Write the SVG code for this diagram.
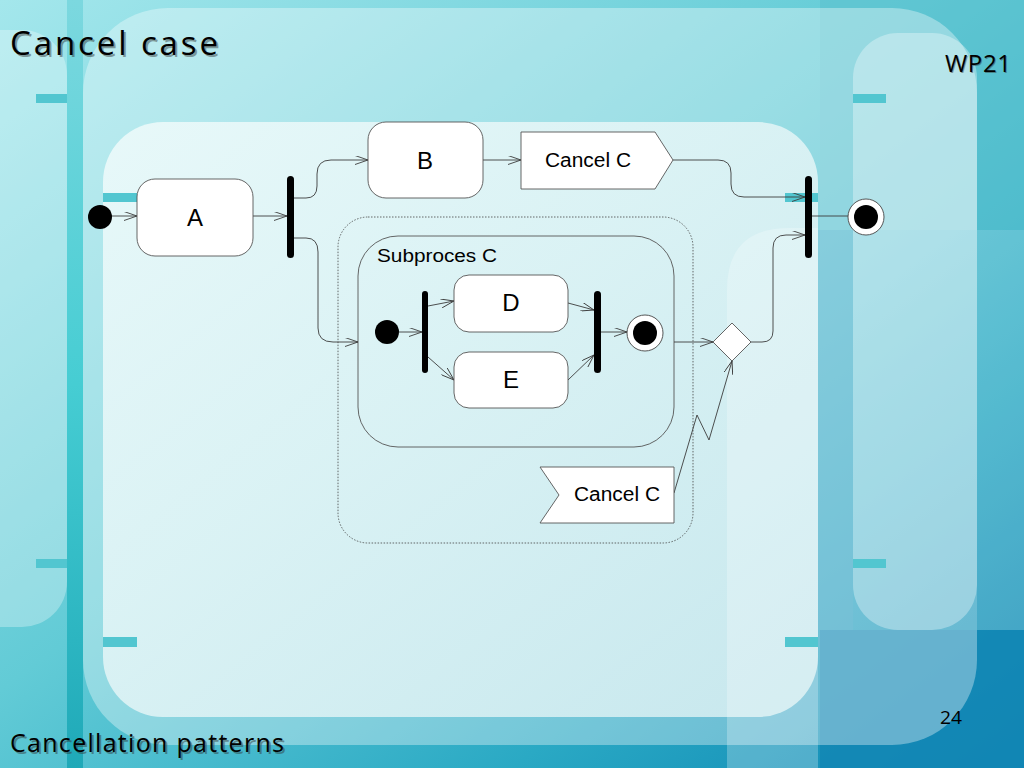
<svg xmlns="http://www.w3.org/2000/svg" width="1024" height="768" viewBox="0 0 1024 768">
<defs>
  <linearGradient id="bg" x1="0" y1="0" x2="1" y2="1">
    <stop offset="0" stop-color="#a4e7ec"/>
    <stop offset="0.45" stop-color="#62cbd6"/>
    <stop offset="0.75" stop-color="#2aa9c4"/>
    <stop offset="1" stop-color="#0b84b3"/>
  </linearGradient>
  <linearGradient id="leftStrip" x1="0" y1="0" x2="0" y2="1">
    <stop offset="0" stop-color="#7cd8df"/>
    <stop offset="0.5" stop-color="#46cdd3"/>
    <stop offset="1" stop-color="#1fa9b8"/>
  </linearGradient>
  <linearGradient id="inner" x1="0" y1="0" x2="1" y2="1">
    <stop offset="0" stop-color="#f0fbfb"/>
    <stop offset="1" stop-color="#d8eff2"/>
  </linearGradient>
  <marker id="arr" viewBox="0 0 13 9" refX="13" refY="4.5" markerWidth="13" markerHeight="9" orient="auto" markerUnits="userSpaceOnUse">
    <path d="M0,0 L13,4.5 L0,9" fill="none" stroke="#3c3c3c" stroke-width="0.9"/>
  </marker>
  <style>
    .edge{fill:none;stroke:#3c3c3c;stroke-width:0.9}
    .box{fill:#ffffff;stroke:#555;stroke-width:0.9}
    .bar{fill:#000}
    .lbl{font-family:"Liberation Sans",Arial,sans-serif;fill:#000}
    .ttl{font-family:"Open Sans","DejaVu Sans",sans-serif;fill:#000}
    .shd{font-family:"Open Sans","DejaVu Sans",sans-serif;fill:#333;opacity:0.45}
    .stub{fill:#52c6d0}
  </style>
</defs>

<!-- background -->
<g id="background">
  <rect x="0" y="0" width="1024" height="768" fill="url(#bg)"/>
  <rect x="67" y="0" width="16" height="768" fill="url(#leftStrip)"/>
  <rect x="820" y="0" width="204" height="230" fill="#5cc2cf" opacity="0.6"/>
  <rect x="818" y="230" width="35" height="400" fill="#3a9fc2" opacity="0.4"/>
  <rect x="820" y="630" width="204" height="138" fill="#1386b4" opacity="0.8"/>
  <rect x="-80" y="30" width="147" height="597" rx="45" fill="#ffffff" opacity="0.3"/>
  <rect x="853" y="33" width="124" height="597" rx="45" fill="#ffffff" opacity="0.33"/>
  <rect x="977" y="230" width="47" height="400" fill="#ffffff" opacity="0.2"/>
  <rect x="83" y="8" width="894" height="737" rx="85" fill="#ffffff" opacity="0.35"/>
  <rect x="103" y="122" width="715" height="595" rx="60" fill="url(#inner)" opacity="0.85"/>
  <path d="M727,768 V290 Q727,228 789,228 H818 V768 Z" fill="#ffffff" opacity="0.25"/>
  <rect class="stub" x="36" y="94" width="31" height="9"/>
  <rect class="stub" x="36" y="559" width="31" height="9"/>
  <rect class="stub" x="853" y="94" width="33" height="9"/>
  <rect class="stub" x="853" y="559" width="33" height="9"/>
  <rect class="stub" x="103" y="193" width="34" height="9"/>
  <rect class="stub" x="785" y="193" width="33" height="9"/>
  <rect class="stub" x="103" y="637" width="34" height="10"/>
  <rect class="stub" x="785" y="637" width="33" height="10"/>
</g>

<!-- titles -->
<g id="titles">
  <text class="shd" x="12" y="57" font-size="33" textLength="208" lengthAdjust="spacing">Cancel case</text>
  <text class="ttl" x="10" y="55" font-size="33" textLength="208" lengthAdjust="spacing">Cancel case</text>
  <text class="shd" x="946" y="73" font-size="24" textLength="66" lengthAdjust="spacing">WP21</text>
  <text class="ttl" x="945" y="72" font-size="24" textLength="66" lengthAdjust="spacing">WP21</text>
  <text class="shd" x="12" y="754" font-size="25" textLength="274" lengthAdjust="spacing">Cancellation patterns</text>
  <text class="ttl" x="10" y="752" font-size="25" textLength="274" lengthAdjust="spacing">Cancellation patterns</text>
  <text class="ttl" x="940" y="724" font-size="19" textLength="22" lengthAdjust="spacingAndGlyphs">24</text>
</g>

<!-- regions -->
<g id="interruptible-region">
  <rect x="338" y="217" width="355" height="326" rx="30" fill="none" stroke="#444" stroke-width="0.8" stroke-dasharray="1.5,1.5"/>
</g>
<g id="subproces-c">
  <rect x="358" y="236" width="316" height="211" rx="40" fill="none" stroke="#555" stroke-width="0.9"/>
  <text class="lbl" x="377" y="262" font-size="18" textLength="120" lengthAdjust="spacingAndGlyphs">Subproces C</text>
</g>

<!-- connectors -->
<g id="connectors">
  <path class="edge" d="M112,216 H137" marker-end="url(#arr)"/>
  <path class="edge" d="M253,216 H287" marker-end="url(#arr)"/>
  <path class="edge" d="M294,198 H306 Q317,198 317,186 V174 Q317,160 331,160 H368" marker-end="url(#arr)"/>
  <path class="edge" d="M294,238 H306 Q318,238 318,252 V328 Q318,342 333,342 H358" marker-end="url(#arr)"/>
  <path class="edge" d="M483,160 H521" marker-end="url(#arr)"/>
  <path class="edge" d="M673,160 H718 Q731,160 731,173 V184 Q731,197 744,197 H805" marker-end="url(#arr)"/>
  <path class="edge" d="M812,216 H848"/>
  <path class="edge" d="M751,342 H762 Q773,342 773,331 V248 Q773,235 786,235 H805" marker-end="url(#arr)"/>
  <path class="edge" d="M674,342 H713" marker-end="url(#arr)"/>
  <path class="edge" d="M399,332 H422" marker-end="url(#arr)"/>
  <path class="edge" d="M428,306 L454,301" marker-end="url(#arr)"/>
  <path class="edge" d="M428,357 L454,380" marker-end="url(#arr)"/>
  <path class="edge" d="M568,303 L594,310" marker-end="url(#arr)"/>
  <path class="edge" d="M568,380 L594,355" marker-end="url(#arr)"/>
  <path class="edge" d="M601,332 H627" marker-end="url(#arr)"/>
  <path class="edge" d="M674,493 L697,415 L709,440 L732,361" marker-end="url(#arr)"/>
</g>

<!-- nodes -->
<g id="start">
  <circle cx="100" cy="217" r="12" fill="#000"/>
</g>
<g id="node-a">
  <rect class="box" x="137" y="179" width="116" height="77" rx="18"/>
  <text class="lbl" x="195" y="226" font-size="24" text-anchor="middle">A</text>
</g>
<g id="fork-1">
  <rect class="bar" x="287" y="176" width="7" height="82" rx="3.5"/>
</g>
<g id="node-b">
  <rect class="box" x="368" y="122" width="115" height="76" rx="18"/>
  <text class="lbl" x="425" y="169" font-size="24" text-anchor="middle">B</text>
</g>
<g id="send-cancel-c">
  <path class="box" d="M521,132 H655 L673,160 L655,189 H521 Z"/>
  <text class="lbl" x="588" y="167" font-size="20" text-anchor="middle" textLength="86" lengthAdjust="spacingAndGlyphs">Cancel C</text>
</g>
<g id="join-1">
  <rect class="bar" x="805" y="176" width="7" height="82" rx="3.5"/>
</g>
<g id="end">
  <circle cx="866" cy="217" r="18" fill="#fff" stroke="#444" stroke-width="0.9"/>
  <circle cx="866" cy="217" r="12" fill="#000"/>
</g>
<g id="sub-start">
  <circle cx="387" cy="332" r="12" fill="#000"/>
</g>
<g id="fork-2">
  <rect class="bar" x="422" y="291" width="6" height="82" rx="3"/>
</g>
<g id="node-d">
  <rect class="box" x="454" y="275" width="114" height="57" rx="15"/>
  <text class="lbl" x="511" y="311" font-size="24" text-anchor="middle">D</text>
</g>
<g id="node-e">
  <rect class="box" x="454" y="352" width="114" height="56" rx="15"/>
  <text class="lbl" x="511" y="388" font-size="24" text-anchor="middle">E</text>
</g>
<g id="join-2">
  <rect class="bar" x="594" y="291" width="7" height="82" rx="3.5"/>
</g>
<g id="sub-end">
  <circle cx="645" cy="333" r="18" fill="#fff" stroke="#444" stroke-width="0.9"/>
  <circle cx="645" cy="333" r="12" fill="#000"/>
</g>
<g id="merge">
  <path class="box" d="M713,342 L732,323 L751,342 L732,361 Z"/>
</g>
<g id="receive-cancel-c">
  <path class="box" d="M540,467 H674 V523 H540 L559,495 Z"/>
  <text class="lbl" x="617" y="501" font-size="20" text-anchor="middle" textLength="86" lengthAdjust="spacingAndGlyphs">Cancel C</text>
</g>
</svg>
